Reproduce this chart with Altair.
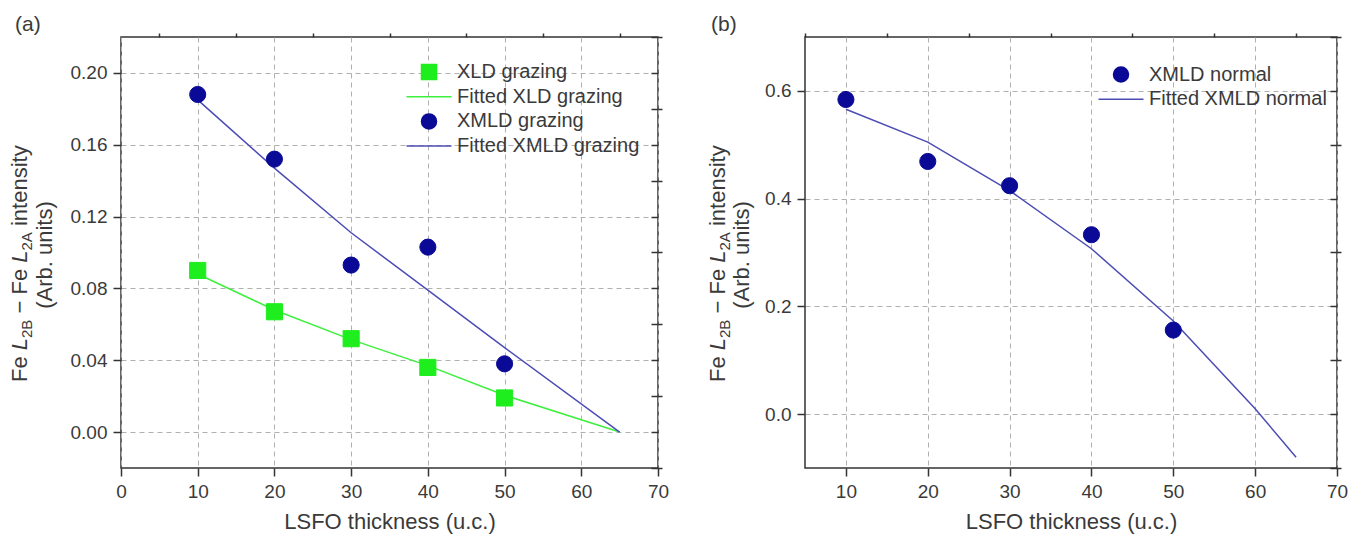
import altair as alt
import pandas as pd

# ---------------- data ----------------
thickness = [10, 20, 30, 40, 50]
xld_grazing = [0.090, 0.067, 0.052, 0.036, 0.019]
xmld_grazing = [0.188, 0.152, 0.093, 0.103, 0.038]

fit_thickness_a = [10, 20, 30, 40, 50, 65]
fit_xld_grazing = [0.088, 0.068, 0.0515, 0.037, 0.0205, 0.0]
fit_xmld_grazing = [0.185, 0.147, 0.111, 0.079, 0.047, 0.0]

xmld_normal = [0.584, 0.469, 0.424, 0.333, 0.156]
fit_thickness_b = [10, 20, 30, 40, 50, 60, 65]
fit_xmld_normal = [0.566, 0.505, 0.415, 0.307, 0.173, 0.010, -0.080]

series_a = ["XLD grazing", "Fitted XLD grazing", "XMLD grazing", "Fitted XMLD grazing"]
series_b = ["XMLD normal", "Fitted XMLD normal"]

x_major_a = [0, 10, 20, 30, 40, 50, 60, 70]
x_minor_a = [5, 15, 25, 35, 45, 55, 65]
y_major_a = [0.0, 0.04, 0.08, 0.12, 0.16, 0.20]
y_minor_a = [-0.02, 0.02, 0.06, 0.10, 0.14, 0.18, 0.22]
x_major_b = [10, 20, 30, 40, 50, 60, 70]
x_minor_b = [5, 15, 25, 35, 45, 55, 65]
y_major_b = [0.0, 0.2, 0.4, 0.6]
y_minor_b = [-0.1, 0.1, 0.3, 0.5, 0.7]

# ---------------- style ----------------
FONT = "Liberation Sans"
TXT = "#3a3a3a"
FRAME = "#333333"
GRID = "#b0b0b0"
GREEN_PT = "#1eee1e"
GREEN_LN = "#3cf03c"
NAVY = "#0a0a96"
BLUE_LN = "#4c4cb4"
LINE_SHAPE = "M-3,0L3,0"

W_A, W_B, H = 537, 532, 431


def major_axis(values, fmt, title):
    return alt.Axis(
        values=values, format=fmt, tickSize=8,
        grid=True, gridDash=[5, 4], gridColor=GRID, gridWidth=1,
        domain=False, tickColor=FRAME, tickWidth=1.5,
        labelFont=FONT, labelFontSize=19, labelColor=TXT, labelPadding=6,
        labelOverlap=False, labelFlush=False, labelBound=False,
        title=title, titleFont=FONT, titleFontSize=22, titleColor=TXT,
        titleFontWeight="normal", titlePadding=10,
    )


def minor_axis(values):
    return alt.Axis(values=values, labels=False, tickSize=4, grid=False,
                    domain=False, tickColor=FRAME, tickWidth=1.5, title=None)


def right_axis(values):
    return alt.Axis(orient="right", values=values, labels=False, ticks=True,
                    tickSize=7, offset=-7, grid=False, domain=False,
                    tickColor=FRAME, tickWidth=1.5, title=None)


def y_title(bx1, bx2, start_y, center2):
    """Rotated two-line y title with italic L and subscripts, as text marks."""
    fs, ss = 22, 15
    k = fs / 1000.0
    ks = ss / 1000.0
    segs = [  # text, advance (incl. trailing space), size, italic, subscript
        ("Fe", 1445 * k, fs, False, False),
        ("L", 556 * k, fs, True, False),
        ("2B", 1223 * ks + 278 * k, ss, False, True),
        ("\u2212", 862 * k, fs, False, False),
        ("Fe", 1445 * k, fs, False, False),
        ("L", 556 * k, fs, True, False),
        ("2A", 1223 * ks + 278 * k, ss, False, True),
        ("intensity", 3668 * k, fs, False, False),
    ]
    d = pd.DataFrame({"d": [0]})
    out = []
    pos = start_y
    for text, adv, size, ital, sub in segs:
        out.append(
            alt.Chart(d).mark_text(
                text=text, angle=270, align="left", baseline="alphabetic",
                font=FONT, fontSize=size, fontStyle="italic" if ital else "normal",
                color=TXT,
            ).encode(x=alt.value(bx1 + (5 if sub else 0)), y=alt.value(pos))
        )
        pos -= adv
    out.append(
        alt.Chart(d).mark_text(
            text="(Arb. units)", angle=270, align="center", baseline="alphabetic",
            font=FONT, fontSize=fs, color=TXT,
        ).encode(x=alt.value(bx2), y=alt.value(center2))
    )
    return out


def legend(x, y):
    return alt.Legend(
        title=None, orient="none", legendX=x, legendY=y, padding=0,
        labelFont=FONT, labelFontSize=20, labelColor=TXT, labelOffset=18,
        labelLimit=0, symbolSize=225, symbolStrokeWidth=1.5, rowPadding=3.7,
    )


def panel(fit_df, pts_df, fit_names, fit_colors, xs, ys, xmaj, xmin, ymaj, ymin,
          yfmt, series, fills, strokes, shapes, leg, title_x1, title_x2, width,
          label, label_dx):
    layers = []
    for i, (name, col) in enumerate(zip(fit_names, fit_colors)):
        if i == 0:
            xa, ya = major_axis(xmaj, "d", "LSFO thickness (u.c.)"), major_axis(ymaj, yfmt, None)
        else:
            xa, ya = None, None
        layers.append(
            alt.Chart(fit_df).transform_filter(alt.datum.series == name)
            .mark_line(color=col, strokeWidth=1.5)
            .encode(x=alt.X("thickness:Q", scale=xs, axis=xa),
                    y=alt.Y("value:Q", scale=ys, axis=ya))
        )
    # minor ticks (bottom/left) and inward right ticks
    layers.append(
        alt.Chart(fit_df).mark_line(strokeOpacity=0).encode(
            x=alt.X("thickness:Q", scale=xs, axis=minor_axis(xmin)),
            y=alt.Y("value:Q", scale=ys, axis=minor_axis(ymin)))
    )
    layers.append(
        alt.Chart(fit_df).mark_line(strokeOpacity=0).encode(
            x=alt.X("thickness:Q", scale=xs, axis=None),
            y=alt.Y("value:Q", scale=ys, axis=right_axis(sorted(ymaj + ymin))))
    )
    layers.append(
        alt.Chart(pts_df).mark_point(filled=True, size=260, strokeWidth=1, opacity=1).encode(
            x=alt.X("thickness:Q", scale=xs, axis=None),
            y=alt.Y("value:Q", scale=ys, axis=None),
            fill=alt.Fill("series:N", scale=alt.Scale(domain=series, range=fills), legend=leg),
            stroke=alt.Stroke("series:N", scale=alt.Scale(domain=series, range=strokes), legend=leg),
            shape=alt.Shape("series:N", scale=alt.Scale(domain=series, range=shapes), legend=leg),
        )
    )
    layers += y_title(title_x1, title_x2, 345, 218)
    return alt.layer(*layers).resolve_axis(x="independent", y="independent").properties(
        width=width, height=H,
        title=alt.TitleParams(label, anchor="start", frame="bounds", fontSize=21,
                              fontWeight="normal", font=FONT, color=TXT, dx=label_dx, offset=-3),
    )


# ---------------- panel (a) ----------------
pts_a = pd.DataFrame({
    "thickness": thickness * 2,
    "value": xld_grazing + xmld_grazing,
    "series": ["XLD grazing"] * 5 + ["XMLD grazing"] * 5,
})
fit_a = pd.DataFrame({
    "thickness": fit_thickness_a * 2,
    "value": fit_xld_grazing + fit_xmld_grazing,
    "series": ["Fitted XLD grazing"] * 6 + ["Fitted XMLD grazing"] * 6,
})
panel_a = panel(
    fit_a, pts_a, ["Fitted XLD grazing", "Fitted XMLD grazing"], [GREEN_LN, BLUE_LN],
    alt.Scale(domain=[0, 70], nice=False, zero=False),
    alt.Scale(domain=[-0.02, 0.22], nice=False, zero=False),
    x_major_a, x_minor_a, y_major_a, y_minor_a, ".2f",
    series_a, [GREEN_PT, GREEN_LN, NAVY, BLUE_LN], [GREEN_PT, GREEN_LN, NAVY, BLUE_LN],
    ["square", LINE_SHAPE, "circle", LINE_SHAPE], legend(298, 25),
    -94, -69, W_A, "(a)", 6,
)

# ---------------- panel (b) ----------------
pts_b = pd.DataFrame({"thickness": thickness, "value": xmld_normal,
                      "series": ["XMLD normal"] * 5})
fit_b = pd.DataFrame({"thickness": fit_thickness_b, "value": fit_xmld_normal,
                      "series": ["Fitted XMLD normal"] * 7})
panel_b = panel(
    fit_b, pts_b, ["Fitted XMLD normal"], [BLUE_LN],
    alt.Scale(domain=[5, 70], nice=False, zero=False),
    alt.Scale(domain=[-0.1, 0.7], nice=False, zero=False),
    x_major_b, x_minor_b, y_major_b, y_minor_b, ".1f",
    series_b, [NAVY, BLUE_LN], [NAVY, BLUE_LN], ["circle", LINE_SHAPE], legend(306, 27.5),
    -80, -56, W_B, "(b)", 4,
)

chart = alt.hconcat(panel_a, panel_b, spacing=36).resolve_scale(
    fill="independent", stroke="independent", shape="independent"
).resolve_legend(fill="independent", stroke="independent", shape="independent").properties(
    padding={"left": 0, "top": 5, "right": 5, "bottom": 5},
    background="white",
).configure_view(stroke=FRAME, strokeWidth=1.5)

chart.save("out.html", embed_options={"renderer": "svg", "actions": False})
